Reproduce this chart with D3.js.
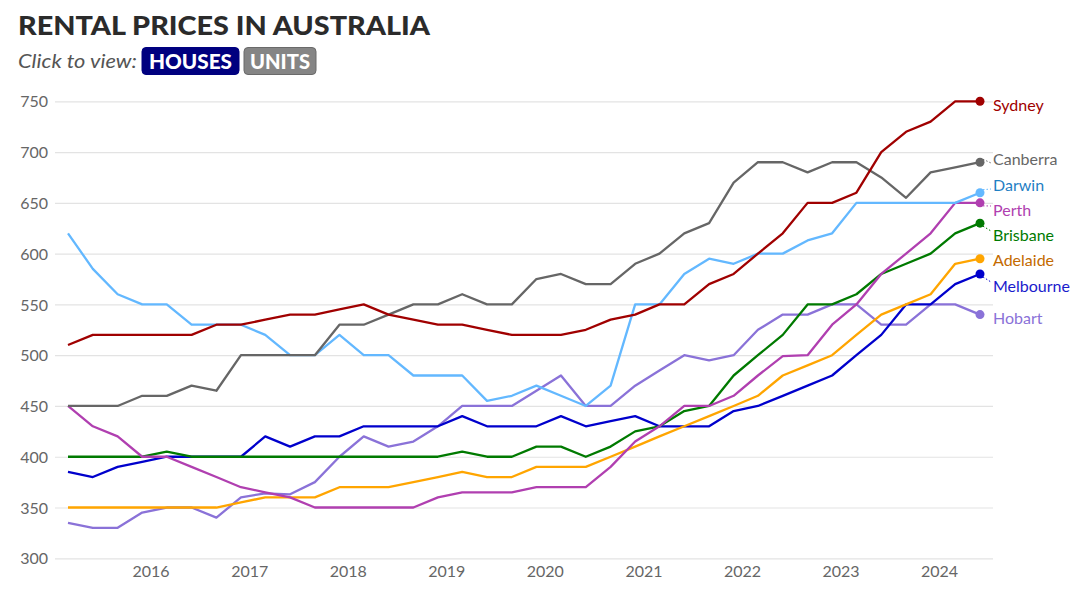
<!DOCTYPE html>
<html>
<head>
<meta charset="utf-8">
<script src="https://cdn.jsdelivr.net/npm/d3@7"></script>
<style>
  html, body { margin: 0; padding: 0; background: #fff; }
  svg { display: block; font-family: "Lato", "Open Sans", sans-serif; }
</style>
</head>
<body>
<svg id="chart" width="1080" height="594"></svg>
<script>
// ---- data ----
const startYear = 2015, startMonth = 2; // first point: March 2015, quarterly
const cities = ["Sydney","Canberra","Darwin","Perth","Brisbane","Adelaide","Melbourne","Hobart"];
const sydney    = [510,520,520,520,520,520,530,530,535,540,540,545,550,540,535,530,530,525,520,520,520,525,535,540,550,550,570,580,600,620,650,650,660,700,720,730,750,750];
const canberra  = [450,450,450,460,460,470,465,500,500,500,500,530,530,540,550,550,560,550,550,575,580,570,570,590,600,620,630,670,690,690,680,690,690,675,655,680,685,690];
const darwin    = [620,585,560,550,550,530,530,530,520,500,500,520,500,500,480,480,480,455,460,470,460,450,470,550,550,580,595,590,600,600,613,620,650,650,650,650,650,660];
const perth     = [450,430,420,400,400,390,380,370,365,360,350,350,350,350,350,360,365,365,365,370,370,370,390,415,430,450,450,460,480,499,500,530,550,580,600,620,650,650];
const brisbane  = [400,400,400,400,405,400,400,400,400,400,400,400,400,400,400,400,405,400,400,410,410,400,410,425,430,445,450,480,500,520,550,550,560,580,590,600,620,630];
const adelaide  = [350,350,350,350,350,350,350,355,360,360,360,370,370,370,375,380,385,380,380,390,390,390,400,410,420,430,440,450,460,480,490,500,520,540,550,560,590,595];
const melbourne = [385,380,390,395,400,400,400,400,420,410,420,420,430,430,430,430,440,430,430,430,440,430,435,440,430,430,430,445,450,460,470,480,500,520,550,550,570,580];
const hobart    = [335,330,330,345,350,350,340,360,364,363,375,400,420,410,415,430,450,450,450,465,480,450,450,470,485,500,495,500,525,540,540,550,550,530,530,550,550,540];
const seriesValues = [sydney, canberra, darwin, perth, brisbane, adelaide, melbourne, hobart];
const lineColors  = ["#a00000","#666666","#63b8ff","#b03fb0","#007a00","#ffa500","#0000cc","#8a72d8"];
const labelColors = ["#a00000","#666666","#1f80c4","#b03fb0","#007a00","#c46a00","#1a1acc","#8a72d8"];
const labelY      = [105,159,185,210,235,260,286,318];
const hasLeader   = [false,true,true,true,true,false,true,false];
const yTicks = [300,350,400,450,500,550,600,650,700,750];
const xTickYears = [2016,2017,2018,2019,2020,2021,2022,2023,2024];

const dates = sydney.map((_, i) => new Date(startYear, startMonth + 3 * i, 1));

// ---- layout ----
const svg = d3.select("#chart");
const x = d3.scaleTime()
  .domain([dates[0], dates[dates.length - 1]])
  .range([68, 980]);
const y = d3.scaleLinear().domain([300, 750]).range([558.3, 101.3]);
const gridX0 = 55, gridX1 = 993;

// title
svg.append("text").attr("x", 18).attr("y", 35)
  .attr("font-size", 27).attr("font-weight", 900).attr("fill", "#2b2b2b")
  .attr("textLength", 412).attr("lengthAdjust", "spacingAndGlyphs")
  .text("RENTAL PRICES IN AUSTRALIA");
svg.append("text").attr("x", 18).attr("y", 68)
  .attr("font-size", 19).attr("font-style", "italic").attr("fill", "#555")
  .attr("textLength", 119).attr("lengthAdjust", "spacingAndGlyphs")
  .text("Click to view:");

// buttons
const btns = [
  {label: "HOUSES", x0: 142, x1: 239, fill: "#00007f", stroke: "#00007f", tl: 83},
  {label: "UNITS",  x0: 244, x1: 316, fill: "#858585", stroke: "#6a6a6a", tl: 60}
];
btns.forEach(b => {
  svg.append("rect").attr("x", b.x0).attr("y", 47.5).attr("width", b.x1 - b.x0).attr("height", 27)
    .attr("rx", 4).attr("fill", b.fill).attr("stroke", b.stroke).attr("stroke-width", 1);
  svg.append("text").attr("x", (b.x0 + b.x1) / 2).attr("y", 68.5)
    .attr("text-anchor", "middle").attr("font-size", 20).attr("font-weight", 900).attr("fill", "#fff")
    .attr("textLength", b.tl).attr("lengthAdjust", "spacingAndGlyphs")
    .text(b.label);
});

// grid + y axis
const yAxis = d3.axisLeft(y).tickValues(yTicks).tickSize(-(gridX1 - gridX0)).tickPadding(8);
const gy = svg.append("g").attr("transform", `translate(${gridX0},0)`).call(yAxis);
gy.select(".domain").remove();
gy.selectAll(".tick line").attr("stroke", "#e3e3e3").attr("stroke-width", 1.2);
gy.selectAll(".tick text").attr("font-size", 16).attr("fill", "#666").attr("x", -7).attr("dy", "0.35em")
  .style("font-family", "Lato, 'Open Sans', sans-serif");

// x axis
const xAxis = d3.axisBottom(x)
  .tickValues(xTickYears.map(yv => new Date(yv, 0, 1)))
  .tickFormat(d3.timeFormat("%Y")).tickSize(0).tickPadding(0);
const gx = svg.append("g").attr("transform", `translate(0,571)`).call(xAxis);
gx.select(".domain").remove();
gx.selectAll(".tick text").attr("font-size", 16).attr("fill", "#666").attr("dy", "0.35em")
  .style("font-family", "Lato, 'Open Sans', sans-serif");

// lines
const line = d3.line().x((d, i) => x(dates[i])).y(d => y(d));
const order = [7,6,5,4,3,2,1,0];
order.forEach(k => {
  svg.append("path").datum(seriesValues[k])
    .attr("fill", "none").attr("stroke", lineColors[k]).attr("stroke-width", 2.3)
    .attr("stroke-linejoin", "round")
    .attr("d", line);
});

// end points, leaders, labels
cities.forEach((c, k) => {
  const vals = seriesValues[k];
  const last = vals[vals.length - 1];
  const px = x(dates[dates.length - 1]), py = y(last);
  if (hasLeader[k]) {
    const down = labelY[k] > py;
    svg.append("line").attr("x1", px + 3).attr("y1", py + (down ? 3 : -3))
      .attr("x2", 991).attr("y2", labelY[k] + (down ? -4 : 4))
      .attr("stroke", lineColors[k]).attr("stroke-width", 1).attr("stroke-dasharray", "1.5,2");
  }
  svg.append("circle").attr("cx", px).attr("cy", py).attr("r", 4.5).attr("fill", lineColors[k]);
  svg.append("text").attr("x", 993).attr("y", labelY[k]).attr("dy", "0.35em")
    .attr("font-size", 16).attr("fill", labelColors[k]).text(c);
});
</script>
</body>
</html>
